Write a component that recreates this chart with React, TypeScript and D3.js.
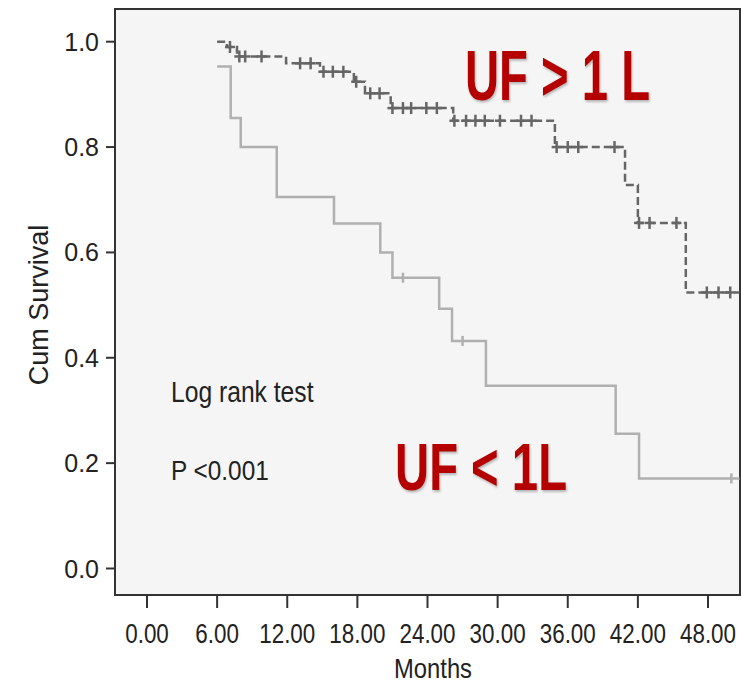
import React from "react";
import * as d3 from "d3";

// Upper group (UF > 1 L): step times (months) and survival after each step
const upperTimes = [6.0, 6.84, 7.7, 11.9, 14.8, 17.7, 18.65, 20.85, 26.2, 34.9, 40.9, 42.0, 46.1];
const upperSurv = [1.0, 0.99, 0.972, 0.959, 0.943, 0.924, 0.902, 0.874, 0.85, 0.8, 0.728, 0.656, 0.524];
const upperCensor = [7.1, 7.9, 8.4, 9.8, 13.1, 14.0, 15.1, 15.9, 16.8, 17.9, 19.1, 19.9, 21.0, 21.9, 22.6, 23.9, 24.8, 26.3, 27.3, 28.1, 28.9, 30.2, 32.0, 32.9, 35.05, 36.0, 36.9, 40.0, 42.1, 43.0, 45.3, 47.9, 48.9, 49.9];
const upperEnd = 50.7;

// Lower group (UF < 1L)
const lowerTimes = [6.0, 7.16, 8.02, 11.1, 16.0, 19.96, 21.0, 25.0, 26.1, 29.0, 40.1, 42.1];
const lowerSurv = [0.953, 0.855, 0.8, 0.705, 0.655, 0.6, 0.552, 0.493, 0.432, 0.347, 0.256, 0.171];
const lowerCensor = [21.9, 27.0, 50.0];
const lowerEnd = 50.7;

const xTicks = [0, 6, 12, 18, 24, 30, 36, 42, 48];
const yTicks = [0, 0.2, 0.4, 0.6, 0.8, 1.0];

const W = 741;
const H = 684;
const frame = { left: 115, top: 9, right: 740, bottom: 595 };

const x = d3.scaleLinear().domain([0, 48]).range([147, 708]);
const y = d3.scaleLinear().domain([0, 1]).range([568.5, 41.7]);

function stepPoints(times: number[], surv: number[], end: number): [number, number][] {
  const pts: [number, number][] = times.map((t, i) => [t, surv[i]]);
  pts.push([end, surv[surv.length - 1]]);
  return pts;
}

function survAt(times: number[], surv: number[], t: number): number {
  let s = surv[0];
  for (let i = 0; i < times.length; i++) {
    if (times[i] <= t) s = surv[i];
  }
  return s;
}

const line = d3
  .line<[number, number]>()
  .x((d) => x(d[0]))
  .y((d) => y(d[1]))
  .curve(d3.curveStepAfter);

const upperColor = "#666666";
const lowerColor = "#b0b0b0";
const red = "#b50000";
const textColor = "#222";

export default function App() {
  const upperPath = line(stepPoints(upperTimes, upperSurv, upperEnd)) || "";
  const lowerPath = line(stepPoints(lowerTimes, lowerSurv, lowerEnd)) || "";
  const font = "'Liberation Sans', Arial, Helvetica, sans-serif";

  return (
    <svg
      width={W}
      height={H}
      style={{ position: "absolute", left: 0, top: 0, background: "#fff" }}
      fontFamily={font}
    >
      <rect x={0} y={0} width={W} height={H} fill="#ffffff" />
      <rect
        x={frame.left}
        y={frame.top}
        width={frame.right - frame.left}
        height={frame.bottom - frame.top}
        fill="#f5f5f5"
        stroke="#333"
        strokeWidth={2}
      />

      {/* y axis ticks */}
      {yTicks.map((t) => (
        <g key={"y" + t}>
          <line x1={106} x2={frame.left} y1={y(t)} y2={y(t)} stroke="#333" strokeWidth={2} />
          <text x={99} y={y(t) + 9} textAnchor="end" fontSize={25} fill={textColor}>
            {t.toFixed(1)}
          </text>
        </g>
      ))}

      {/* x axis ticks */}
      {xTicks.map((t) => (
        <g key={"x" + t}>
          <line x1={x(t)} x2={x(t)} y1={frame.bottom} y2={608} stroke="#333" strokeWidth={2} />
          <text
            transform={`translate(${x(t)},643) scale(0.8,1)`}
            textAnchor="middle"
            fontSize={28}
            fill={textColor}
          >
            {t.toFixed(2)}
          </text>
        </g>
      ))}

      <text transform="translate(433,678) scale(0.85,1)" textAnchor="middle" fontSize={28} fill={textColor}>
        Months
      </text>
      <text
        transform="translate(48,305) rotate(-90)"
        textAnchor="middle"
        fontSize={27}
        fill={textColor}
      >
        Cum Survival
      </text>

      {/* curves */}
      <path d={lowerPath} fill="none" stroke={lowerColor} strokeWidth={2.5} />
      {lowerCensor.map((t, i) => (
        <line
          key={"lc" + i}
          x1={x(t)}
          x2={x(t)}
          y1={y(survAt(lowerTimes, lowerSurv, t)) - 5}
          y2={y(survAt(lowerTimes, lowerSurv, t)) + 5}
          stroke={lowerColor}
          strokeWidth={2.5}
        />
      ))}
      <path d={upperPath} fill="none" stroke={upperColor} strokeWidth={2.5} strokeDasharray="8,4" />
      {upperCensor.map((t, i) => (
        <g key={"uc" + i}>
          <line
            x1={x(t)}
            x2={x(t)}
            y1={y(survAt(upperTimes, upperSurv, t)) - 6}
            y2={y(survAt(upperTimes, upperSurv, t)) + 6}
            stroke={upperColor}
            strokeWidth={2.5}
          />
          <line
            x1={x(t) - 5}
            x2={x(t) + 5}
            y1={y(survAt(upperTimes, upperSurv, t))}
            y2={y(survAt(upperTimes, upperSurv, t))}
            stroke={upperColor}
            strokeWidth={2.5}
          />
        </g>
      ))}

      {/* annotations */}
      <text transform="translate(171,401.5) scale(0.85,1)" fontSize={29} fill={textColor}>
        Log rank test
      </text>
      <text transform="translate(171,480) scale(0.87,1)" fontSize={28} fill={textColor}>
        P &lt;0.001
      </text>

      <text
        x={465}
        y={100}
        fontSize={70}
        fontWeight="bold"
        fill={red}
        textLength={185}
        lengthAdjust="spacingAndGlyphs"
        style={{ filter: "drop-shadow(1px 2px 1px rgba(0,0,0,0.25))" }}
      >
        UF &gt; 1 L
      </text>
      <text
        x={395}
        y={490}
        fontSize={67}
        fontWeight="bold"
        fill={red}
        textLength={172}
        lengthAdjust="spacingAndGlyphs"
        style={{ filter: "drop-shadow(1px 2px 1px rgba(0,0,0,0.25))" }}
      >
        UF &lt; 1L
      </text>
    </svg>
  );
}
